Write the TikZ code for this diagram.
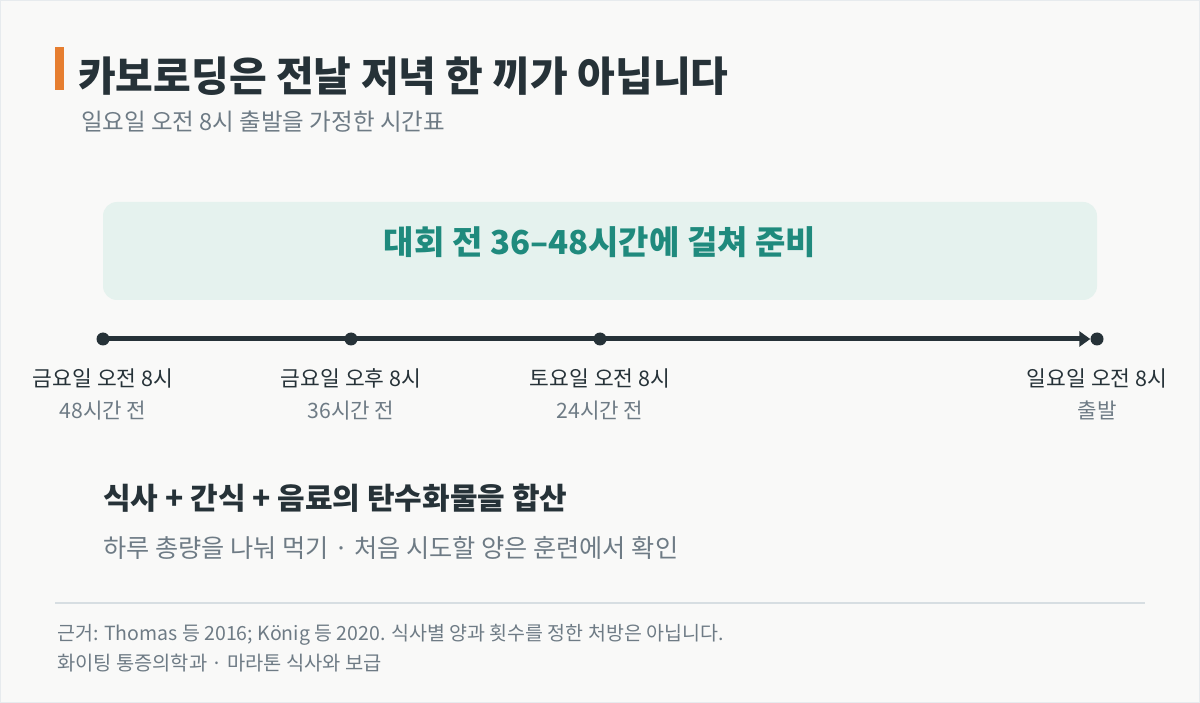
\documentclass[tikz,border=0pt]{standalone}
\usepackage{fontspec}
\setmainfont{Noto Sans CJK KR}
\usetikzlibrary{arrows.meta}
\definecolor{bgc}{HTML}{F9F9F8}
\definecolor{ink}{HTML}{263238}
\definecolor{muted}{HTML}{6E7B85}
\definecolor{teal}{HTML}{1F8A7D}
\definecolor{boxc}{HTML}{E5F2EE}
\definecolor{accent}{HTML}{E67E30}
\definecolor{rule}{HTML}{D7DEE2}
\tikzset{
  dot/.style={circle,fill=ink,inner sep=0pt,minimum size=13pt},
  lbl/.style={text=ink,font=\fontsize{21.5}{24}\selectfont,inner sep=0pt,anchor=base},
  sublbl/.style={text=muted,font=\fontsize{21.2}{24}\selectfont,inner sep=0pt,anchor=base},
  txt/.style={inner sep=0pt,anchor=base west},
}
\begin{document}
\begin{tikzpicture}[x=1pt,y=-1pt]
\fill[bgc] (0,0) rectangle (1200,703);
\draw[rule!60,line width=1pt] (0.5,0.5) rectangle (1199.5,702.5);
\useasboundingbox (0,0) rectangle (1200,703);
% title
\fill[accent] (55,47) rectangle (64,90);
\node[txt,text=ink,font=\fontsize{41}{45}\selectfont\bfseries] (title) at (78,92) {카보로딩은 전날 저녁 한 끼가 아닙니다};
\node[txt,text=muted,font=\fontsize{23.5}{27}\selectfont] (sub) at (81,131) {일요일 오전 8시 출발을 가정한 시간표};
% box
\node[fill=boxc,rounded corners=14pt,minimum width=994pt,minimum height=98pt,inner sep=0pt] (box) at (600,251) {};
\node[text=teal,font=\fontsize{33}{37}\selectfont\bfseries,inner sep=0pt] (boxt) at (600,242) {대회 전 36–48시간에 걸쳐 준비};
% timeline
\node[dot] (d1) at (103,339) {};
\node[dot] (d2) at (351,339) {};
\node[dot] (d3) at (600,339) {};
\node[dot] (d4) at (1097,339) {};
\draw[ink,line width=5pt,-{Triangle[length=11pt,width=15pt]}] (d1.center) -- (d4.west);
\node[lbl] (l1) at (103,387) {금요일 오전 8시};
\node[sublbl] (s1) at (103,418) {48시간 전};
\node[lbl] (l2) at (351,387) {금요일 오후 8시};
\node[sublbl] (s2) at (351,418) {36시간 전};
\node[lbl] (l3) at (600,387) {토요일 오전 8시};
\node[sublbl] (s3) at (600,418) {24시간 전};
\node[lbl] (l4) at (1097,387) {일요일 오전 8시};
\node[sublbl] (s4) at (1097,418) {출발};
% note
\node[txt,text=ink,font=\fontsize{30}{34}\selectfont\bfseries] (n1) at (103,509) {식사 + 간식 + 음료의 탄수화물을 합산};
\node[txt,text=muted,font=\fontsize{25.2}{29}\selectfont] (n2) at (103,557) {하루 총량을 나눠 먹기 · 처음 시도할 양은 훈련에서 확인};
% footer
\coordinate (r1) at (55,603);
\coordinate (r2) at (1145,603);
\draw[rule,line width=1.5pt] (r1) -- (r2);
\node[txt,text=muted,font=\fontsize{19.5}{22}\selectfont] (f1) at (57,640) {근거: Thomas 등 2016; König 등 2020. 식사별 양과 횟수를 정한 처방은 아닙니다.};
\node[txt,text=muted,font=\fontsize{19.8}{22}\selectfont] (f2) at (57,670) {화이팅 통증의학과 · 마라톤 식사와 보급};
\end{tikzpicture}
\end{document}
